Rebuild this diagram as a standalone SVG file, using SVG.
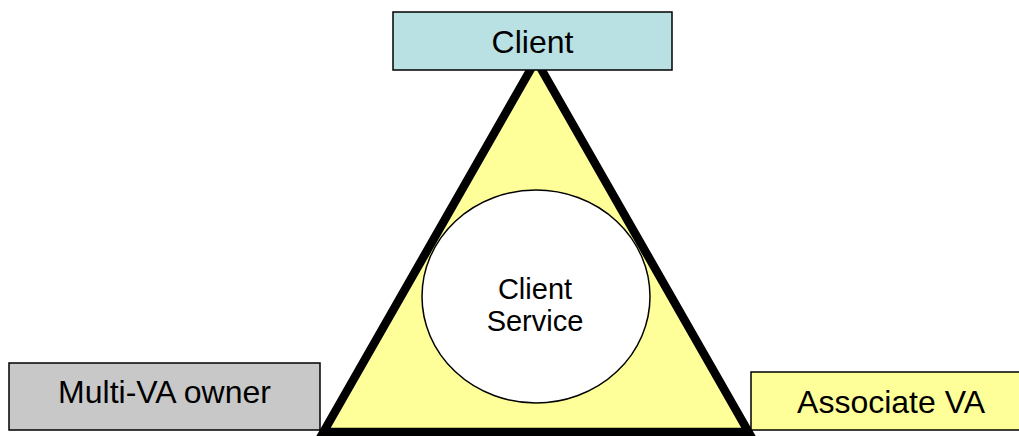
<svg xmlns="http://www.w3.org/2000/svg" width="1019" height="436" viewBox="0 0 1019 436">
  <style>
    .box { stroke: #000; stroke-width: 1.5; }
    .label { font-family: "Liberation Sans", Arial, sans-serif; fill: #000; text-anchor: middle; }
    .big { font-size: 32px; }
    .small { font-size: 29px; }
  </style>
  <rect width="1019" height="436" fill="#fff"/>

  <!-- service triangle linking the three parties -->
  <g id="connectors">
    <polygon id="triangle" points="536,60 323.5,432 748.5,432" fill="#ffff99" stroke="#000" stroke-width="8.5" stroke-linejoin="miter"/>
  </g>

  <g id="node-client-service">
    <ellipse cx="536" cy="296.5" rx="114" ry="106.5" fill="#fff" stroke="#000" stroke-width="1.5"/>
    <text class="label small" x="535" y="299">Client</text>
    <text class="label small" x="535" y="331">Service</text>
  </g>

  <g id="node-client">
    <rect class="box" x="393" y="12" width="279" height="58" fill="#b9e0e3"/>
    <text class="label big" x="532.5" y="53">Client</text>
  </g>

  <g id="node-multi-va-owner">
    <rect class="box" x="9" y="363" width="311" height="67" fill="#c8c8c8"/>
    <text class="label big" x="164.5" y="403">Multi-VA owner</text>
  </g>

  <g id="node-associate-va">
    <rect class="box" x="751" y="372" width="280" height="58" fill="#ffff99"/>
    <text class="label big" x="891" y="413">Associate VA</text>
  </g>
</svg>
